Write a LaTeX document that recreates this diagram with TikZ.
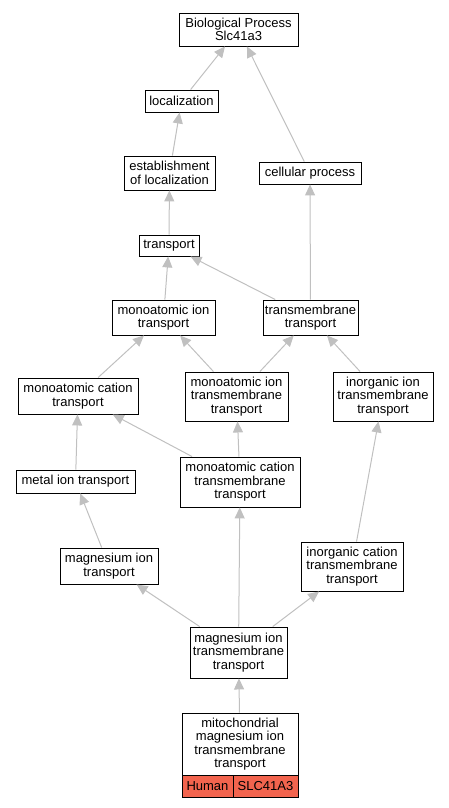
\documentclass[tikz,border=0pt]{standalone}
\usepackage{fontspec}
\setmainfont{Liberation Sans}
\usetikzlibrary{arrows.meta}
\definecolor{edgegray}{RGB}{192,192,192}
\definecolor{orgred}{RGB}{242,100,78}
\tikzset{
  box/.style={draw=black, line width=0.9pt, fill=white, align=center, inner sep=0pt,
    font=\fontsize{13}{13.4}\selectfont},
  edge/.style={draw=edgegray, line width=1pt, -{Triangle[length=11pt,width=10pt]}},
}
\newcommand{\bx}[6]{% name, cx, cy, w, h, text
  \node[box, minimum width=#4pt, minimum height=#5pt] (#1) at (#2,#3) {#6};}
\begin{document}
\begin{tikzpicture}[x=1pt,y=-1pt]
\useasboundingbox (0,0) rectangle (449,808);
\bx{bp}{238.5}{29.5}{119}{33}{Biological Process\\Slc41a3}
\bx{loc}{181.5}{101}{73}{22}{localization}
\bx{est}{169.5}{173}{91}{34}{establishment\\of localization}
\bx{cell}{310}{173}{102}{22}{cellular process}
\bx{tr}{169}{245.5}{60}{21}{transport}
\bx{mit}{163.5}{317.5}{103}{35}{monoatomic ion\\transport}
\bx{tmt}{310.5}{317.5}{95}{35}{transmembrane\\transport}
\bx{mct}{78}{396}{120}{36}{monoatomic cation\\transport}
\bx{mitt}{236.5}{396.5}{103}{49}{monoatomic ion\\transmembrane\\transport}
\bx{iitt}{383}{396.5}{100}{49}{inorganic ion\\transmembrane\\transport}
\bx{metal}{75.5}{481.5}{119}{23}{metal ion transport}
\bx{mctt}{240}{482}{120}{50}{monoatomic cation\\transmembrane\\transport}
\bx{mgt}{109}{566}{98}{36}{magnesium ion\\transport}
\bx{ictt}{352}{566.5}{102}{49}{inorganic cation\\transmembrane\\transport}
\bx{mgtt}{238.5}{652.5}{97}{51}{magnesium ion\\transmembrane\\transport}
\bx{mito}{240}{744}{116}{62}{mitochondrial\\magnesium ion\\transmembrane\\transport}
\node[box, fill=orgred, minimum width=51pt, minimum height=22pt] (hum) at (207.5,786) {Human};
\node[box, fill=orgred, minimum width=65pt, minimum height=22pt] (gene) at (265.5,786) {SLC41A3};

\draw[edge] (loc) -- (bp);
\draw[edge] (cell) -- (bp);
\draw[edge] (est) -- (loc);
\draw[edge] (tr) -- (est);
\draw[edge] (tmt) -- (cell);
\draw[edge] (mit) -- (tr);
\draw[edge] (tmt) -- (tr);
\draw[edge] (mct) -- (mit);
\draw[edge] (mitt) -- (mit);
\draw[edge] (mitt) -- (tmt);
\draw[edge] (iitt) -- (tmt);
\draw[edge] (metal) -- (mct);
\draw[edge] (mctt) -- (mct);
\draw[edge] (mctt) -- (mitt);
\draw[edge] (mgt) -- (metal);
\draw[edge] (ictt) -- (iitt);
\draw[edge] (mgtt) -- (mgt);
\draw[edge] (mgtt) -- (mctt);
\draw[edge] (mgtt) -- (ictt);
\draw[edge] (mito) -- (mgtt);
\end{tikzpicture}
\end{document}
